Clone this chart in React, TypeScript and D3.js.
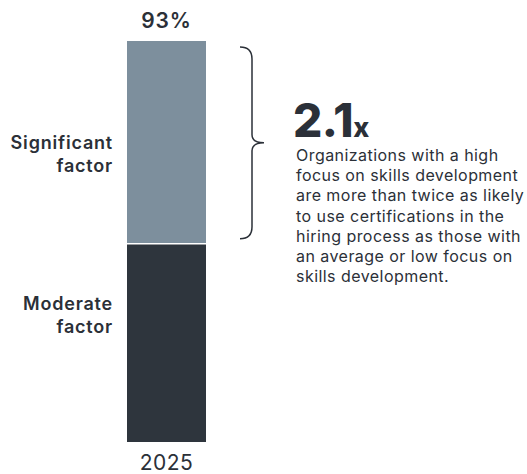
import * as d3 from 'd3'

const years = ['2025']
const segmentNames = ['Moderate factor', 'Significant factor']
const moderate = [46]
const significant = [47]
const totalLabels = ['93%']
const colors = ['#2e353d', '#7d8f9d']
const calloutValue = '2.1'
const calloutUnit = 'x'
const calloutLines = [
  'Organizations with a high',
  'focus on skills development',
  'are more than twice as likely',
  'to use certifications in the',
  'hiring process as those with',
  'an average or low focus on',
  'skills development.',
]

const W = 527
const H = 474
const ink = '#2b3038'
const font = 'Inter, "Noto Sans", sans-serif'

export default function App() {
  const x = d3.scaleBand().domain(years).range([127, 206]).padding(0)
  const y = d3.scaleLinear().domain([0, 93]).range([442, 41])

  const stacked = d3.stack<any>().keys(['moderate', 'significant'])(
    years.map((yr, i) => ({ year: yr, moderate: moderate[i], significant: significant[i] }))
  )

  const yr = years[0]
  const bx = x(yr) as number
  const bw = x.bandwidth()
  const top = y(stacked[1][0][1])
  const split = y(stacked[0][0][1])

  // curly brace spanning the significant segment
  const bl = 240, bv = 252, bt = 264
  const b0 = top + 6, b1 = split - 5, bm = (b0 + b1) / 2
  const brace = `M ${bl},${b0} Q ${bv},${b0} ${bv},${b0 + 12} L ${bv},${bm - 8} Q ${bv},${bm} ${bt},${bm}
    Q ${bv},${bm} ${bv},${bm + 8} L ${bv},${b1 - 12} Q ${bv},${b1} ${bl},${b1}`

  return (
    <svg width={W} height={H} style={{ position: 'absolute', left: 0, top: 0, fontFamily: font }}>
      <rect width={W} height={H} fill="#fff" />
      {stacked.map((s, k) => (
        <rect
          key={segmentNames[k]}
          x={bx}
          width={bw}
          y={y(s[0][1])}
          height={y(s[0][0]) - y(s[0][1])}
          fill={colors[k]}
        />
      ))}
      <line x1={bx} x2={bx + bw} y1={split} y2={split} stroke="#fff" strokeWidth={1.5} />

      <text x={bx + bw / 2} y={28} textAnchor="middle" fontSize={21} fontWeight={600} letterSpacing={0.8} fill={ink}>
        {totalLabels[0]}
      </text>
      <text x={bx + bw / 2} y={470} textAnchor="middle" fontSize={21} letterSpacing={0.5} fill={ink}>
        {yr}
      </text>

      {/* segment labels */}
      <text textAnchor="end" fontSize={18} fontWeight={600} letterSpacing={0.8} fill={ink}>
        <tspan x={113} y={149}>Significant</tspan>
        <tspan x={113} y={172}>factor</tspan>
      </text>
      <text textAnchor="end" fontSize={18} fontWeight={600} letterSpacing={0.8} fill={ink}>
        <tspan x={113} y={310}>Moderate</tspan>
        <tspan x={113} y={333}>factor</tspan>
      </text>

      <path d={brace} fill="none" stroke={ink} strokeWidth={1.5} />

      <text x={293} y={137} fill={ink} fontWeight={800}>
        <tspan fontSize={46} letterSpacing={-0.5}>{calloutValue}</tspan>
        <tspan fontSize={27}>{calloutUnit}</tspan>
      </text>
      <text fontSize={16} letterSpacing={0.45} fill={ink}>
        {calloutLines.map((l, i) => (
          <tspan key={i} x={296} y={161 + i * 20.2}>{l}</tspan>
        ))}
      </text>
    </svg>
  )
}
